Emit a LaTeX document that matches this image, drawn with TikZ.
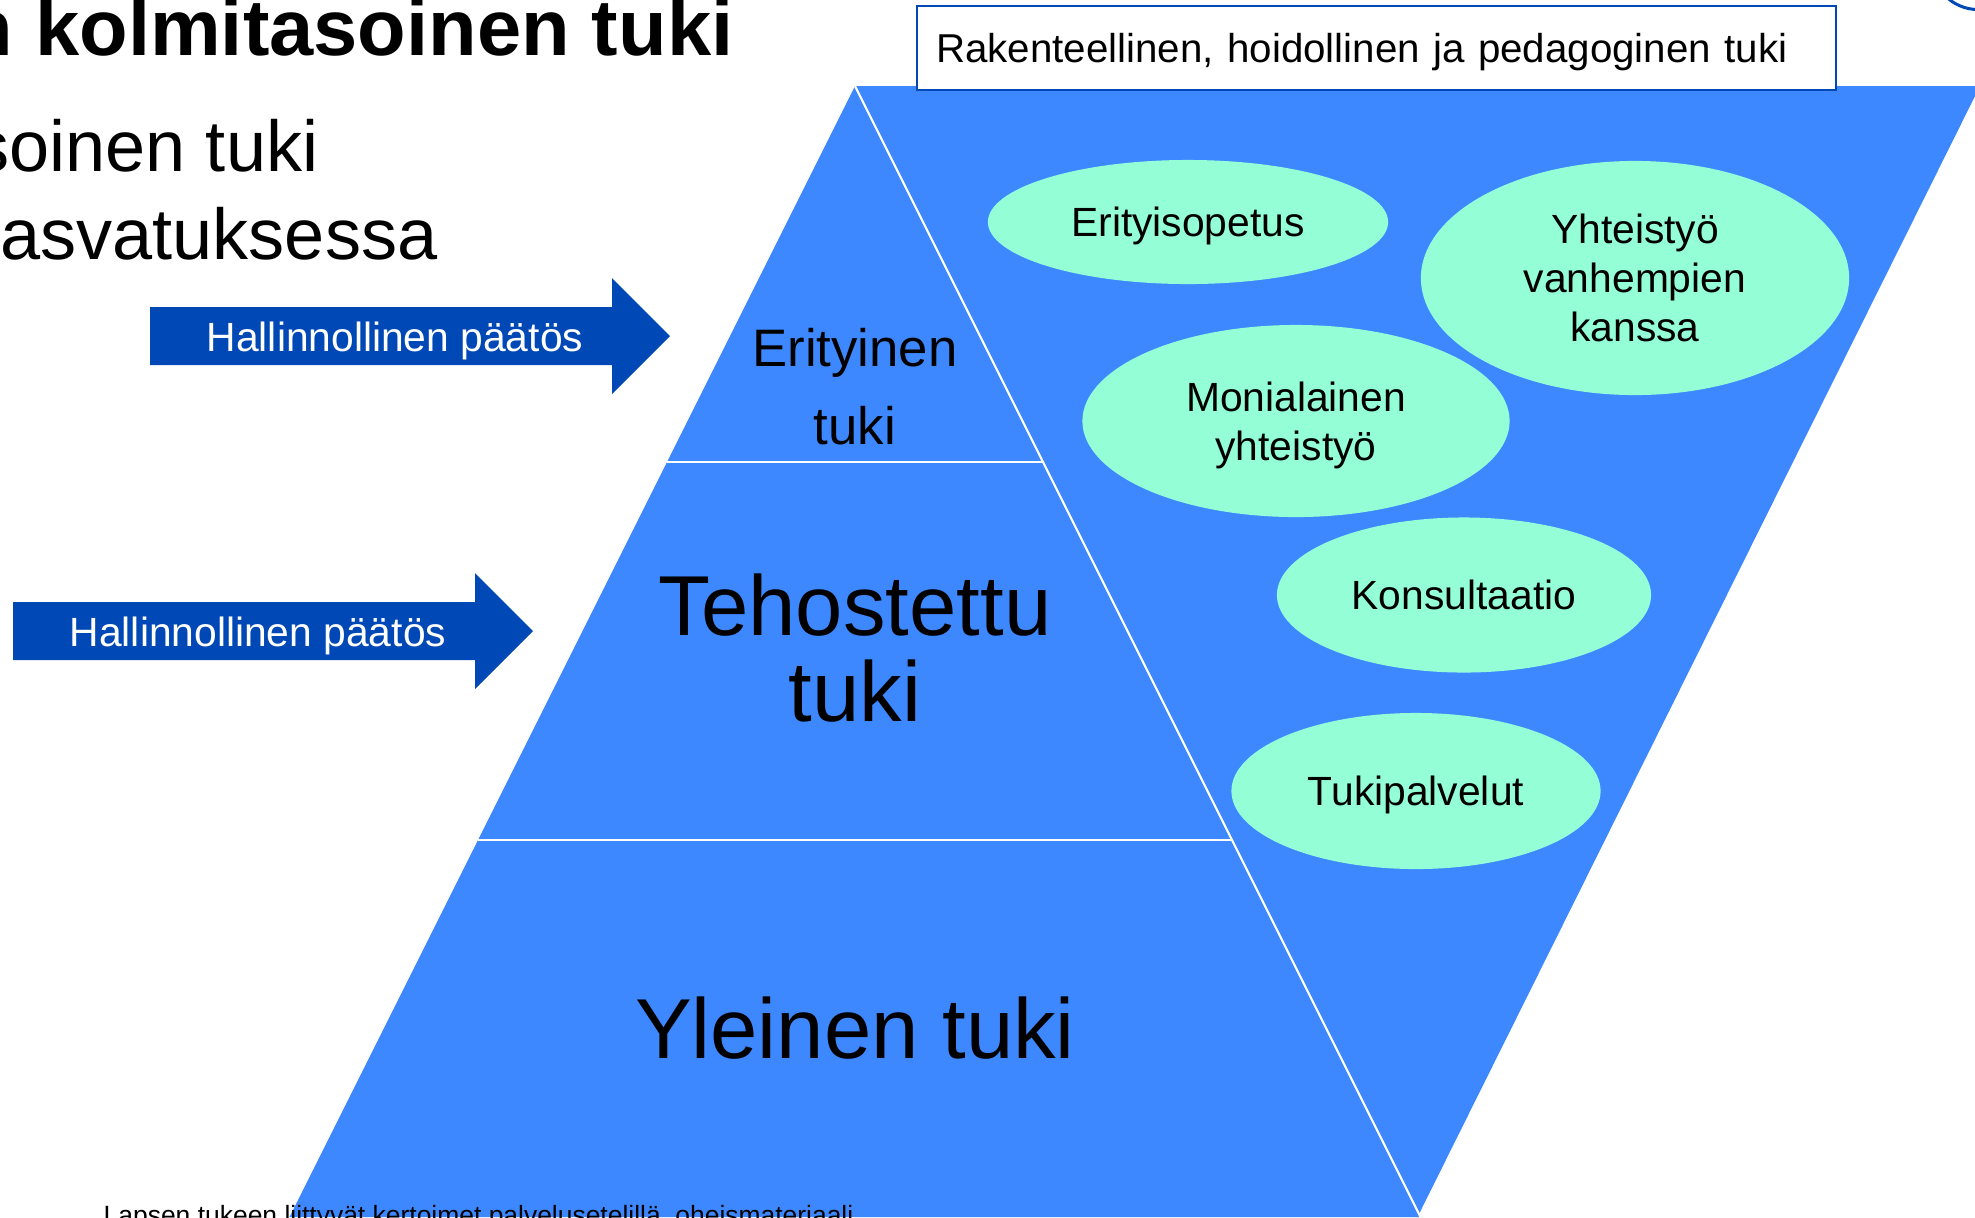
\documentclass[tikz,border=0pt]{standalone}
\usepackage{fontspec}
\setmainfont{Liberation Sans}
\usetikzlibrary{positioning,shapes.geometric}
\definecolor{pyrblue}{RGB}{61,136,255}
\definecolor{mint}{RGB}{148,255,214}
\definecolor{decblue}{RGB}{0,72,182}
\tikzset{
  lvlfill/.style={fill=pyrblue},
  wline/.style={draw=white,line width=0.6pt},
  decarrow/.style={fill=decblue},
  declbl/.style={text=white,inner sep=0pt,text depth=0pt,font=\fontsize{11.6pt}{13.9pt}\selectfont},
  bubble/.style={ellipse,fill=mint,inner sep=0pt,align=center,text depth=0pt,
    font=\fontsize{11.6pt}{13.9pt}\selectfont},
  hdrbox/.style={draw=decblue,line width=0.6pt,fill=white,anchor=north west,text depth=0pt,
    font=\fontsize{11.46pt}{13.8pt}\selectfont},
  lvllbl/.style={align=center,inner sep=0pt},
  ttl/.style={inner sep=0pt,anchor=base east},
}

\begin{document}
\begin{tikzpicture}[x=0.01cm,y=-0.01cm]
  \useasboundingbox (0,0) rectangle (1975,1217);
  \clip (0,0) rectangle (1975,1217);
  % heading, cut at the left edge
  \node[ttl,font=\fontsize{22.6pt}{27pt}\selectfont\bfseries] (title) at (734,55) {n kolmitasoinen tuki};
  \node[ttl,font=\fontsize{20.5pt}{24.6pt}\selectfont] (sub1) at (319,171) {soinen tuki};
  \node[ttl,font=\fontsize{20.5pt}{24.6pt}\selectfont] (sub2) at (438,259) {asvatuksessa};

  \coordinate (apex) at (855,86);
  % inverted triangle behind the pyramid
  \fill[lvlfill] (apex) -- (1980,86) -- (1417.5,1217) -- cycle;
  % pyramid and its levels
  \fill[lvlfill] (apex) -- (289.5,1217) -- (1420.5,1217) -- cycle;
  \draw[wline] (apex) -- (1420.5,1217);
  \draw[wline] (667,462) -- (1043,462);
  \draw[wline] (478,840) -- (1232,840);

  \node[lvllbl,font=\fontsize{15pt}{22.2pt}\selectfont] (erityinen) at (855,387) {Erityinen\\tuki};
  \node[lvllbl,font=\fontsize{24.2pt}{24.5pt}\selectfont] (tehostettu) at (855,648) {Tehostettu\\tuki};
  \node[lvllbl,font=\fontsize{24.2pt}{29pt}\selectfont,anchor=base] (yleinen) at (855,1058) {Yleinen tuki};

  % forms of support
  \node[bubble,minimum width=4.00cm,minimum height=1.24cm] (erit) at (1188,222) {Erityisopetus};
  \node[bubble,minimum width=4.28cm,minimum height=2.34cm] (vanh) at (1635,278) {Yhteistyö\\vanhempien\\kanssa};
  \node[bubble,minimum width=4.27cm,minimum height=1.92cm] (moni) at (1296,421) {Monialainen\\yhteistyö};
  \node[bubble,minimum width=3.74cm,minimum height=1.55cm] (kons) at (1464,595) {Konsultaatio};
  \node[bubble,minimum width=3.69cm,minimum height=1.56cm] (tuki) at (1416,791) {Tukipalvelut};

  \node[hdrbox,minimum width=9.18cm,minimum height=0.84cm,text width=8.8cm,
    inner xsep=0.19cm,align=left] (hdr) at (916,5) {Rakenteellinen, hoidollinen ja pedagoginen tuki};

  % decision arrows
  \foreach \ax/\ay/\nm in {150/307/dectop,13/602/decbot}{
    \fill[decarrow] (\ax,\ay) -- ++(462,0) -- ++(0,-29) -- ++(58,58) -- ++(-58,58)
      -- ++(0,-29) -- ++(-462,0) -- cycle;
    \node[declbl] (\nm) at (\ax+245,\ay+30) {Hallinnollinen päätös};
  }

  \draw[decblue,line width=0.85pt] (1978,-36.5) circle[radius=0.46cm];

  \node[inner sep=0pt,anchor=base west,font=\fontsize{7.52pt}{9pt}\selectfont] (note)
    at (103,1224) {Lapsen tukeen liittyvät kertoimet palvelusetelillä, oheismateriaali};
\end{tikzpicture}
\end{document}
